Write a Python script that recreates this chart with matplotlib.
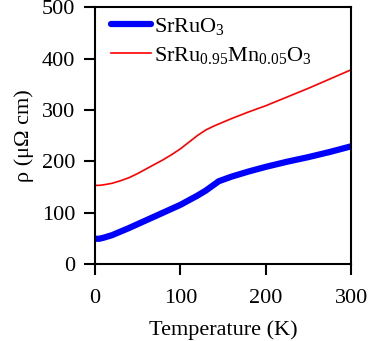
import matplotlib
matplotlib.use("Agg")
import matplotlib.pyplot as plt

# resistivity curves
temp_a = [0, 5, 10, 20, 30, 40, 60, 80, 100, 110, 120, 130, 140, 145, 150, 160, 180, 200, 225, 250, 275, 300]
rho_a = [49, 49, 51, 56, 63, 70, 85, 100, 115, 124, 133, 143, 155, 161, 164, 170, 180, 189, 199, 208, 218, 229]

temp_b = [0, 5, 10, 20, 30, 40, 50, 60, 70, 80, 90, 100, 110, 120, 130, 140, 150, 160, 180, 200, 225, 250, 275, 300]
rho_b = [153, 153, 154, 157, 162, 168, 176, 185, 194, 203, 213, 224, 237, 250, 261, 269, 276, 283, 296, 308, 325, 342, 360, 378]

plt.rcParams['font.family'] = ['Liberation Serif', 'DejaVu Serif']
plt.rcParams['mathtext.fontset'] = 'custom'
plt.rcParams['mathtext.rm'] = 'Liberation Serif'
plt.rcParams['mathtext.it'] = 'Liberation Serif:italic'

fig = plt.figure(figsize=(3.68, 3.41), dpi=100)
ax = fig.add_axes([0.258, 0.226, 0.696, 0.753])

ax.plot(temp_a, rho_a, color='#0000ff', lw=4.5, solid_capstyle='round', label=r'SrRuO$_\mathrm{3}$')
ax.plot(temp_b, rho_b, color='#ff0000', lw=1.2, label=r'SrRu$_\mathrm{0.95}$Mn$_\mathrm{0.05}$O$_\mathrm{3}$')

ax.set_xlim(0, 300)
ax.set_ylim(0, 500)
ax.set_xticks([0, 100, 200, 300])
ax.set_yticks([0, 100, 200, 300, 400, 500])
ax.tick_params(direction='out', length=8, width=1.5, labelsize=16, color='black')
ax.tick_params(axis='x', pad=10)
ax.tick_params(axis='y', pad=6)
for s in ax.spines.values():
    s.set_linewidth(1.5)

ax.set_xlabel('Temperature (K)', fontsize=16, labelpad=9)
ax.set_ylabel('ρ (μΩ cm)', fontsize=16, labelpad=6)

ax.legend(loc='upper left', bbox_to_anchor=(0.027, 1.0), frameon=False,
          fontsize=16, handlelength=1.8, handletextpad=0.15,
          borderaxespad=0.3, labelspacing=0.35, borderpad=0.1)

fig.savefig('out.png', dpi=100)
